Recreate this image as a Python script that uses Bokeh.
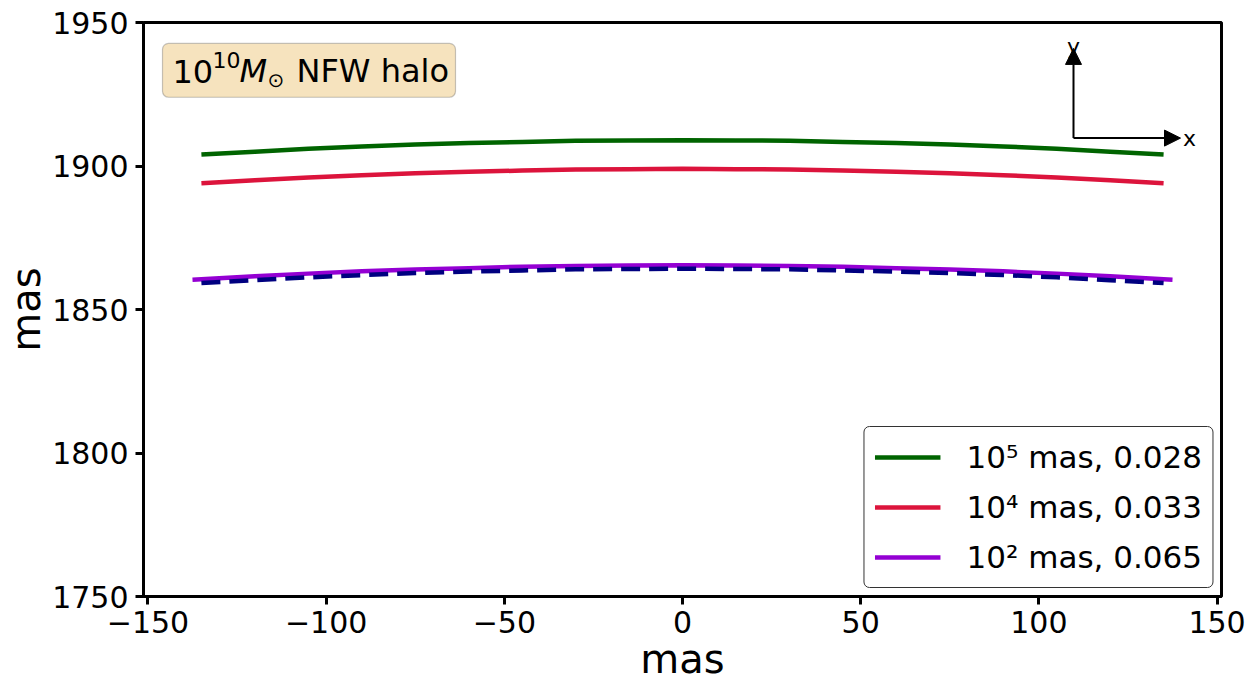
from bokeh.plotting import figure
from bokeh.models import Range1d, FixedTicker, Legend, LegendItem, Arrow, NormalHead, Label, BoxAnnotation
from bokeh.embed import file_html
from bokeh.resources import INLINE

# ---- data ----
x_main = [-135, -120, -105, -90, -75, -60, -45, -30, -15, 0, 15, 30, 45, 60, 75, 90, 105, 120, 135]
y_1e5 = [1904.0, 1905.0, 1906.0, 1906.8, 1907.5, 1908.0, 1908.4, 1908.8, 1908.9, 1909.0,
         1908.9, 1908.8, 1908.4, 1908.0, 1907.5, 1906.8, 1906.0, 1905.0, 1904.0]
y_1e4 = [1894.0, 1895.0, 1896.0, 1896.8, 1897.5, 1898.0, 1898.4, 1898.8, 1898.9, 1899.0,
         1898.9, 1898.8, 1898.4, 1898.0, 1897.5, 1896.8, 1896.0, 1895.0, 1894.0]
x_1e2 = [-137.5, -120, -105, -90, -75, -60, -45, -30, -15, 0, 15, 30, 45, 60, 75, 90, 105, 120, 137.5]
y_1e2 = [1860.4, 1861.6, 1862.5, 1863.3, 1863.9, 1864.4, 1864.9, 1865.2, 1865.3, 1865.4,
         1865.3, 1865.2, 1864.9, 1864.4, 1863.9, 1863.3, 1862.5, 1861.6, 1860.4]
y_ref = [1859.2, 1860.2, 1861.2, 1862.0, 1862.7, 1863.2, 1863.6, 1864.0, 1864.1, 1864.2,
         1864.1, 1864.0, 1863.6, 1863.2, 1862.7, 1862.0, 1861.2, 1860.2, 1859.2]

labels = ["10\u2075 mas, 0.028", "10\u2074 mas, 0.033", "10\u00b2 mas, 0.065"]
xticks = [-150, -100, -50, 0, 50, 100, 150]
yticks = [1750, 1800, 1850, 1900, 1950]

FONT = "DejaVu Sans"
X0, X1 = -151.25, 151.25
Y0, Y1 = 1750, 1950
FL, FR, FT, FB = 143, 1221, 22, 598

def px2x(px):
    return X0 + (px - FL) / (FR - FL) * (X1 - X0)

def py2y(py):
    return Y1 - (py - FT) / (FB - FT) * (Y1 - Y0)

p = figure(width=1250, height=684, x_range=Range1d(X0, X1), y_range=Range1d(Y0, Y1),
           output_backend="svg", toolbar_location=None,
           min_border_left=FL, min_border_right=1250 - FR, min_border_top=FT, min_border_bottom=684 - FB)
p.grid.visible = False
p.outline_line_color = "black"
p.outline_line_width = 3
p.outline_line_alpha = 1
p.background_fill_color = "white"
p.border_fill_color = "white"

for ax, ticks in ((p.xaxis, xticks), (p.yaxis, yticks)):
    ax.ticker = FixedTicker(ticks=ticks)
    ax.major_label_overrides = {t: str(t).replace("-", "\u2212") for t in ticks}
    ax.major_label_text_font = FONT
    ax.major_label_text_font_size = "30px"
    ax.major_label_text_color = "black"
    ax.major_tick_out = 8
    ax.major_tick_in = 0
    ax.major_tick_line_width = 3
    ax.major_tick_line_color = "black"
    ax.minor_tick_out = 0
    ax.minor_tick_in = 0
    ax.axis_line_width = 3
    ax.axis_line_color = "black"
    ax.axis_label = "mas"
    ax.axis_label_text_font = FONT
    ax.axis_label_text_font_size = "40px"
    ax.axis_label_text_font_style = "normal"
    ax.axis_label_text_color = "black"

p.xaxis.major_label_standoff = 6
p.xaxis.axis_label_standoff = 0
p.yaxis.major_label_standoff = 7
p.yaxis.axis_label_standoff = 0

r1 = p.line(x_main, y_1e5, line_color="#006400", line_width=4.5)
r2 = p.line(x_main, y_1e4, line_color="#DC143C", line_width=4.5)
r3 = p.line(x_1e2, y_1e2, line_color="#9400D3", line_width=4.5)
p.line(x_main, y_ref, line_color="#000080", line_width=4.5, line_dash="19 9")

legend = Legend(items=[LegendItem(label=labels[0], renderers=[r1]),
                       LegendItem(label=labels[1], renderers=[r2]),
                       LegendItem(label=labels[2], renderers=[r3])],
                location="bottom_right")
legend.label_text_font = FONT
legend.label_text_font_size = "31px"
legend.label_text_color = "black"
legend.label_height = 40
legend.glyph_height = 40
legend.glyph_width = 66
legend.label_standoff = 26
legend.spacing = 10
legend.padding = 10
legend.margin = 8
legend.border_line_color = "#333333"
legend.border_line_width = 1.5
legend.border_line_alpha = 1
legend.background_fill_alpha = 1
try:
    legend.border_radius = 6
except Exception:
    pass
p.add_layout(legend)

# title box
box = BoxAnnotation(left=px2x(162), right=px2x(455), top=py2y(43), bottom=py2y(97),
                    fill_color="#F5DEB3", fill_alpha=0.85, line_color="#444444", line_width=1.2)
try:
    box.border_radius = 6
except Exception:
    pass
p.add_layout(box)

pieces = [
    (172, py2y(71), "10", "32px", "normal"),
    (212, py2y(60), "10", "22px", "normal"),
    (239, py2y(71), "M", "32px", "italic"),
    (267, py2y(80), "\u2299", "20px", "normal"),
    (296, py2y(71), "NFW halo", "32px", "normal"),
]
for px, y, t, fs, st in pieces:
    p.add_layout(Label(x=px2x(px), y=y, text=t, text_font=FONT, text_font_size=fs,
                       text_font_style=st, text_color="black", text_baseline="middle",
                       text_align="left"))

# coordinate arrows
ox, oy = px2x(1073), py2y(138)
p.add_layout(Arrow(end=NormalHead(size=16, fill_color="black", line_color="black"),
                   x_start=ox, y_start=oy, x_end=ox, y_end=py2y(48),
                   line_color="black", line_width=2))
p.add_layout(Arrow(end=NormalHead(size=16, fill_color="black", line_color="black"),
                   x_start=ox, y_start=oy, x_end=px2x(1180), y_end=oy,
                   line_color="black", line_width=2))
p.add_layout(Label(x=ox, y=py2y(46), text="y", text_font=FONT, text_font_size="22px",
                   text_align="center", text_baseline="middle", text_color="black"))
p.add_layout(Label(x=px2x(1189), y=oy, text="x", text_font=FONT, text_font_size="22px",
                   text_align="center", text_baseline="middle", text_color="black"))

open("out.html", "w").write(file_html(p, INLINE))
